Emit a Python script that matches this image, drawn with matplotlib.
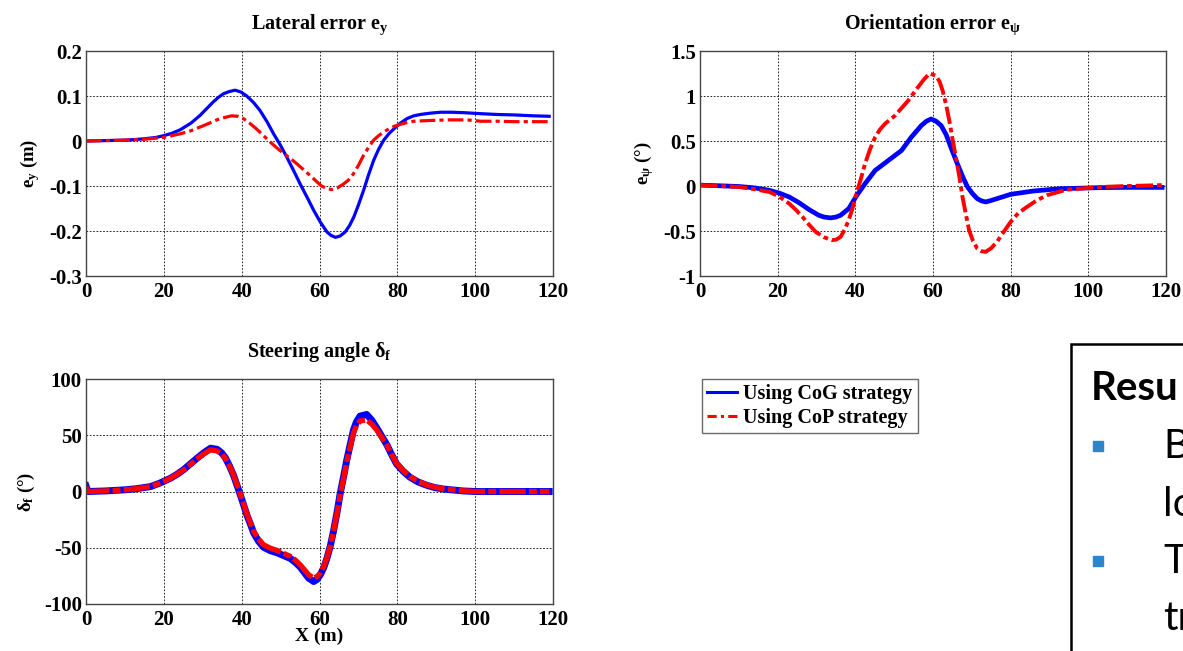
import matplotlib
matplotlib.use('Agg')
import matplotlib.pyplot as plt
from matplotlib.patches import Rectangle


### DATA

# lateral error e_y [m]
ey_cog_x = [0, 5, 10, 12, 15, 18, 20, 22, 24.2, 27, 29.3, 31, 32.7, 34, 35.3, 36.8, 38.3, 39.8, 41.3,
            43, 44.7, 46.5, 48.2, 50, 51.6, 53.3, 55, 56.8, 58.5, 60.2, 61.9, 63, 64.1, 65.3, 66.6,
            67.7, 68.8, 70, 71.3, 72.6, 73.9, 75.2, 76.5, 77.8, 79.1, 80.8, 82.5, 84.2, 85.9, 88.5,
            91.1, 94, 97.1, 101, 105.6, 110, 115, 119]
ey_cog_y = [0, 0.001, 0.002, 0.003, 0.005, 0.008, 0.012, 0.017, 0.025, 0.04, 0.057, 0.072, 0.087,
            0.097, 0.105, 0.11, 0.113, 0.109, 0.1, 0.086, 0.068, 0.043, 0.016, -0.01, -0.036, -0.065,
            -0.095, -0.125, -0.154, -0.18, -0.202, -0.21, -0.214, -0.211, -0.202, -0.188, -0.169,
            -0.142, -0.11, -0.075, -0.043, -0.018, 0.002, 0.016, 0.027, 0.04, 0.05, 0.056, 0.059,
            0.062, 0.064, 0.064, 0.063, 0.061, 0.059, 0.058, 0.056, 0.055]

ey_cop_x = [0, 5, 10, 15, 20, 24.2, 27, 29.3, 31.5, 33.6, 35.5, 37.4, 39, 40.4, 42, 43.8, 45.5, 47.3,
            49, 50.7, 52.4, 54.1, 55.8, 57.5, 59, 60.5, 61.8, 63.1, 64.6, 66.1, 67.4, 68.7, 70, 71.3,
            72.6, 73.9, 75.2, 76.5, 78.2, 79.9, 82, 84.2, 86.7, 89.3, 93, 97.9, 101.4, 105.6, 110, 115,
            119]
ey_cop_y = [0, 0.001, 0.002, 0.004, 0.008, 0.016, 0.023, 0.031, 0.039, 0.047, 0.052, 0.056, 0.055,
            0.05, 0.04, 0.027, 0.013, -0.002, -0.015, -0.027, -0.038, -0.05, -0.063, -0.076, -0.088,
            -0.1, -0.105, -0.108, -0.104, -0.096, -0.087, -0.073, -0.054, -0.032, -0.014, 0.002,
            0.012, 0.02, 0.029, 0.035, 0.04, 0.044, 0.045, 0.046, 0.047, 0.047, 0.044, 0.044, 0.043,
            0.043, 0.043]

# orientation error e_psi [deg]
epsi_cog_x = [0, 5, 10, 14, 17.9, 20.5, 23, 25.5, 28.1, 30.6, 32, 33.6, 35, 36.2, 38.3, 40.4, 42.5,
              45.1, 48.5, 51.9, 54.4, 57, 58.3, 59.5, 60.8, 62.1, 63.4, 64.6, 65.7, 66.8, 67.9, 68.9,
              70.2, 71.4, 72.5, 73.6, 75, 76.5, 80, 85.9, 92.7, 102.9, 110, 119]
epsi_cog_y = [0.01, 0.003, -0.005, -0.02, -0.048, -0.08, -0.122, -0.185, -0.262, -0.325, -0.345,
              -0.354, -0.345, -0.325, -0.251, -0.103, 0.026, 0.173, 0.284, 0.395, 0.542, 0.672,
              0.72, 0.745, 0.72, 0.672, 0.57, 0.432, 0.31, 0.192, 0.08, -0.011, -0.085, -0.14,
              -0.165, -0.177, -0.16, -0.14, -0.092, -0.055, -0.03, -0.018, -0.015, -0.015]

epsi_cop_x = [0, 5, 10, 14, 17.9, 20.5, 23, 24.7, 26.4, 28.1, 29.8, 32, 34, 35.1, 36.2, 37.2, 38.3,
              39.4, 40.4, 41.5, 42.5, 43.8, 45.1, 46.3, 47.6, 50.2, 53.6, 56.1, 57.6, 59.1, 60.8,
              61.7, 62.5, 63.4, 64.2, 65, 65.9, 66.8, 67.6, 68.5, 69.3, 70.3, 71.4, 72.5, 73.6, 75,
              76.5, 78.2, 80, 82, 84.2, 86.7, 89.3, 94.4, 102.9, 110, 119]
epsi_cop_y = [0.01, 0.0, -0.01, -0.035, -0.066, -0.12, -0.196, -0.265, -0.343, -0.43, -0.509, -0.57,
              -0.601, -0.595, -0.565, -0.49, -0.38, -0.23, -0.066, 0.09, 0.247, 0.41, 0.542, 0.625,
              0.69, 0.782, 0.948, 1.096, 1.18, 1.251, 1.225, 1.16, 1.059, 0.9, 0.727, 0.53, 0.321,
              0.1, -0.122, -0.32, -0.491, -0.61, -0.694, -0.725, -0.731, -0.69, -0.62, -0.51,
              -0.399, -0.3, -0.232, -0.16, -0.103, -0.041, -0.011, 0.0, 0.01]

# steering angle delta_f [deg]
delta_cop_x = [0, 0.5, 5, 10, 13, 16.6, 19, 21.7, 23.4, 25.1, 26.8, 28.5, 30.3, 32, 33.7, 34.8, 35.8,
               36.9, 37.9, 38.8, 39.7, 40.6, 41.4, 42.3, 43.1, 44.3, 45.6, 47.3, 49.1, 50.8, 52.5,
               53.8, 55, 56.1, 57.2, 58.5, 59.4, 60.2, 61.1, 61.9, 62.8, 63.6, 64.5, 65.3, 66.2, 67,
               67.9, 68.7, 69.5, 70.4, 72.1, 73.4, 74.7, 76, 77.3, 78.5, 79.8, 81.5, 83.2, 85.3, 87.5,
               89.6, 91.8, 96.9, 100, 110, 119]
delta_cop_y = [4, 0, 0.5, 1.5, 2.5, 4.4, 7.5, 11.8, 15.3, 19.2, 24, 29, 33.5, 37, 36, 33.5, 29.6,
               22.5, 14.8, 6, -3, -12, -20.7, -28.5, -35.5, -42, -47.3, -50.3, -52.4, -55, -57.7,
               -61, -65, -69.5, -74, -77, -75.5, -72.5, -66.5, -59, -48, -35.5, -19, -3, 12, 26.6,
               40, 51.8, 58.5, 62.7, 63.6, 60, 54.7, 48, 41.4, 33, 25, 18.5, 13.3, 9, 5.9, 3.8, 2.4,
               0.6, 0, 0, 0]

delta_cog_x = [0, 0.5, 5, 10, 13, 16.6, 19, 21.7, 23.4, 25.1, 26.8, 28.5, 30.3, 32, 33.7, 34.8, 35.8,
               36.9, 37.9, 38.8, 39.7, 40.6, 41.4, 42.3, 43.1, 44.3, 45.6, 47.3, 49.1, 50.8, 52.5,
               53.8, 55, 56.1, 57.2, 58.5, 59.4, 60.2, 61.1, 61.9, 62.8, 63.6, 64.5, 65.3, 66.2, 67,
               67.9, 68.7, 69.5, 70.4, 72.1, 73.4, 74.7, 76, 77.3, 78.5, 79.8, 81.5, 83.2, 85.3, 87.5,
               89.6, 91.8, 96.9, 100, 110, 119]
delta_cog_y = [5, 0, 0.5, 1.5, 2.5, 4.4, 7.5, 11.8, 15.3, 19.5, 24.5, 29.5, 34.5, 38.5, 37.5, 34.5,
               30, 22.5, 14.5, 5.5, -3.5, -13, -21.5, -29.5, -37, -44, -49.5, -52.5, -54.5, -57,
               -59.5, -63, -67, -72, -77, -80, -78, -74, -67.5, -59.5, -48, -35, -18.5, -2, 13.5,
               28, 42, 54.5, 62, 67, 68.5, 63.5, 56.5, 49, 41.5, 33, 24.5, 18, 12.8, 8.5, 5.6, 3.5,
               2.2, 0.5, 0, 0, 0]

legend_labels = ['Using CoG strategy', 'Using CoP strategy']
box_lines = ['Resu', 'B', 'lo', 'T', 'tr']


### STYLE

plt.rcParams['font.family'] = 'Liberation Serif'
plt.rcParams['font.weight'] = 'bold'
plt.rcParams['mathtext.fontset'] = 'custom'
plt.rcParams['mathtext.rm'] = 'Liberation Serif:bold'
plt.rcParams['mathtext.it'] = 'Liberation Serif:bold'
plt.rcParams['mathtext.bf'] = 'Liberation Serif:bold'

blue = (0, 0, 1)
red = (1, 0, 0)
dashdot = (0, (4.9, 1.3, 1.3, 1.3))


def style_axes(ax, ylim, yticks, title, ylabel):
    ax.set_xlim(0, 120)
    ax.set_ylim(*ylim)
    ax.set_xticks(range(0, 121, 20))
    ax.set_yticks(yticks)
    ax.set_yticklabels([f'{t:g}' for t in yticks])
    ax.tick_params(axis='x', direction='in', length=0, labelsize=15, pad=4)
    ax.tick_params(axis='y', direction='in', length=0, labelsize=15, pad=3)
    ax.grid(True, color='k', linestyle=(0, (2, 2)), linewidth=0.6)
    for s in ax.spines.values():
        s.set_color('#444444')
        s.set_linewidth(1.0)
    ax.set_title(title, fontsize=14.5, fontweight='bold', pad=16)
    ax.set_ylabel(ylabel, fontsize=13.5, fontweight='bold', labelpad=5)


fig = plt.figure(figsize=(11.83, 6.51), dpi=100)

### (1) LATERAL ERROR

ax1 = fig.add_axes([0.0727, 0.576, 0.3948, 0.3456])
ax1.plot(ey_cog_x, ey_cog_y, color=blue, linewidth=2.3)
ax1.plot(ey_cop_x, ey_cop_y, color=red, linewidth=2.3, linestyle=dashdot)
style_axes(ax1, (-0.3, 0.2), [-0.3, -0.2, -0.1, 0, 0.1, 0.2], r'Lateral error $e_y$', r'$e_y$ (m)')

### (2) ORIENTATION ERROR

ax2 = fig.add_axes([0.5917, 0.576, 0.3939, 0.3456])
ax2.plot(epsi_cog_x, epsi_cog_y, color=blue, linewidth=3.4)
ax2.plot(epsi_cop_x, epsi_cop_y, color=red, linewidth=2.8, linestyle=(0, (4.5, 1, 1.2, 1)))
style_axes(ax2, (-1, 1.5), [-1, -0.5, 0, 0.5, 1, 1.5], r'Orientation error $e_\psi$', r'$e_\psi$ (°)')

### (3) STEERING ANGLE

ax3 = fig.add_axes([0.0727, 0.0722, 0.3948, 0.3456])
ax3.plot(delta_cog_x, delta_cog_y, color=blue, linewidth=5)
ax3.plot(delta_cop_x, delta_cop_y, color=red, linewidth=3.8, linestyle=(0, (5, 0.6, 1.5, 0.6)))
style_axes(ax3, (-100, 100), [-100, -50, 0, 50, 100], r'Steering angle $\delta_f$', r'$\delta_f$ (°)')
ax3.set_xlabel('X (m)', fontsize=14, fontweight='bold', labelpad=-1)

### LEGEND

h1, = ax3.plot([], [], color=blue, linewidth=2.2)
h2, = ax3.plot([], [], color=red, linewidth=2.2, linestyle=(0, (3, 1.4, 1, 1.4)))
fig.legend([h1, h2], legend_labels, loc='upper left', bbox_to_anchor=(702 / 1183, 1 - 379 / 651),
           prop={'family': 'Liberation Serif', 'weight': 'bold', 'size': 14.5},
           frameon=True, fancybox=False, edgecolor='#444444', handlelength=1.5,
           handletextpad=0.3, borderpad=0.25, labelspacing=0.2, borderaxespad=0)

### SLIDE TEXT BOX (cut off at the right edge, as in the reference)

fig.patches.append(Rectangle((1071 / 1183, -0.1), 0.2, 1 - 344 / 651 + 0.1, transform=fig.transFigure,
                             fill=False, edgecolor='black', linewidth=1.8))
fig.text(1091 / 1183, 1 - 400 / 651, box_lines[0], fontsize=29, fontweight='bold', family='Lato',
         va='baseline')
for i, line in enumerate(box_lines[1:]):
    y = 1 - (458 + 57.5 * i) / 651
    fig.text(1163 / 1183, y, line, fontsize=29, family='Lato', va='baseline', fontweight='normal')
for y in [446, 561]:
    fig.patches.append(Rectangle((1093 / 1183, 1 - (y + 5) / 651), 10 / 1183, 10 / 651,
                                 transform=fig.transFigure, color='#2E86C8'))

fig.savefig('out.png', dpi=100)
